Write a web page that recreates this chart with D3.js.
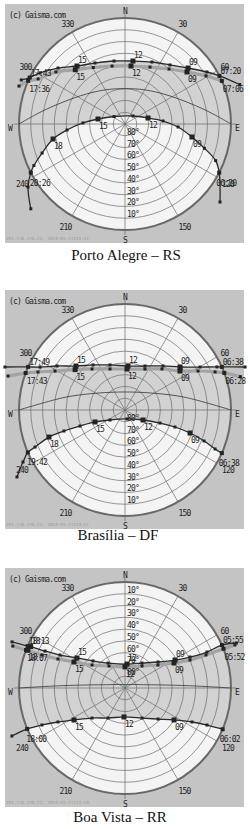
<!DOCTYPE html>
<html lang="pt-br">
<head>
<meta charset="utf-8">
<title>Carta solar - Gaisma</title>
<script src="https://d3js.org/d3.v7.min.js"></script>
<style>
body { margin: 0; background: #fff; }
svg text { font-family: "DejaVu Sans Mono", monospace; }
.lbl { font-size: 8px; letter-spacing: -0.8px; fill: #1e1e1e; }
.ip { font-size: 4.3px; fill: #9a9a9a; }
.cap { font-family: "Liberation Serif", "Times New Roman", serif; font-size: 15px; fill: #111; }
</style>
</head>
<body>
<svg id="chart"></svg>
<script>
var cities = ["Porto Alegre – RS", "Brasília – DF", "Boa Vista – RR"];
var stamps = ["191.176.176.22, 2010-05-21T23:41",
              "191.176.176.22, 2010-05-21T23:51",
              "191.176.176.22, 2010-05-21T23:50"];
var altRings = [10, 20, 30, 40, 50, 60, 70, 80];
var azTicks = [30, 60, 120, 150, 210, 240, 300, 330];

// [azimuth, altitude, hour | rise/set time | null for below horizon]
var poaJune = [[71,-13,null],[63,0,"07:20"],[57.6,7.6,8],[48.4,18.4,9],[37.3,27,10],[23.5,32.6,11],[7.2,36.1,12],
  [-9.9,35.7,13],[-26.2,32.3,14],[-39.6,26.1,15],[-50.1,15.9,16],[-59,5.8,17],[-64,0,"17:43"],[-67,-5.7,null]];
var poaToday = [[66,0,"07:06"],[59.3,10,8],[50,21.3,9],[38.7,30.2,10],[23.7,37.2,11],[5.9,40.5,12],
  [-12.6,39.6,13],[-29.3,35,14],[-42.5,27.5,15],[-53,16.6,16],[-62.6,6.9,17],[-66,0,"17:36"],[-70.3,-5.6,null]];
var poaDec = [[129.4,-14.4,null],[117.3,0,"06:20"],[112,7,7],[107,19.5,8],[101,32.1,9],[93.2,44.9,10],[85.5,57.6,11],
  [75.4,69.8,12],[45,80.4,13],[-55.7,78.7,14],[-79.5,66.7,15],[-88.6,54.3,16],[-95.9,40.5,17],[-101.8,27.6,18],
  [-109.3,15.4,19],[-114.5,5,20],[-117.3,0,"20:26"],[-123,-8.2,null],[-132,-17.6,null]];
var poaEq = [[90,0],[80,21],[58,45],[30,56.5],[0,60],[-30,56.5],[-58,45],[-80,21],[-90,0]];

var brJune = [[70.3,-18.3,null],[66,0,"06:38"],[64.9,3.8,7],[60.2,16.6,8],[52,30.7,9],[40.8,40.6,10],[24.4,49,11],
  [3.9,52.6,12],[-18.4,49.7,13],[-35.4,43.1,14],[-48.1,34.1,15],[-57.1,21.2,16],[-63.2,9.1,17],[-66,0,"17:49"],[-70.3,-18.3,null]];
var brToday = [[73.9,-12,null],[69.5,0,"06:28"],[67.1,7,7],[61.9,19.7,8],[54.7,32.8,9],[42,43.1,10],[26,51.3,11],
  [2.8,55.2,12],[-20.1,52.9,13],[-38.8,45.3,14],[-51,35.5,15],[-60.9,22,16],[-66.4,9.4,17],[-69.6,0,"17:43"],[-73.8,-13.4,null]];
var brDec = [[114,0,"06:38"],[113.4,6.7,7],[111.4,17.9,8],[109.5,31.4,9],[108.8,45.2,10],[110.4,58.3,11],[119,72.5,12],
  [167.5,82.2,13],[-123.7,74.7,14],[-111.8,62.6,15],[-109.6,49.4,16],[-109,35.2,17],[-109.6,21.5,18],[-112.4,7.4,19],
  [-113.6,0,"19:42"],[-117,-7.2,null],[-121.8,-17.9,null]];
var brEq = [[90,0],[78,38],[62,60],[30,72.5],[0,74.7],[-30,72.5],[-62,60],[-78,38],[-90,0]];

var bvJune = [[68,-12,null],[66.1,0,"05:55"],[66.3,14,7],[64.5,28.9,8],[60.8,41.3,9],[51.8,54.3,10],[34.2,64.4,11],
  [4.8,69.6,12],[-34.2,64.4,13],[-49.8,54.4,14],[-58,41.9,15],[-63.1,28.1,16],[-65.2,15.2,17],[-66.3,2.5,18],
  [-66.7,0,"18:13"],[-67.8,-13.6,null]];
var bvToday = [[68.6,-10.2,null],[68.3,0,"05:52"],[67.8,15.7,7],[66.7,29.9,8],[63,43.3,9],[55.1,55.9,10],[37.7,66.4,11],
  [0,72.1,12],[-36,66.9,13],[-55.1,55.9,14],[-63,41.4,15],[-66.6,28,16],[-68.3,14.2,17],[-68.8,1.5,18],
  [-69,0,"18:07"],[-69.5,-11.7,null]];
var bvDec = [[112.9,0,"06:02"],[114.3,13.6,7],[116.9,26.2,8],[123.1,40.3,9],[133.2,51.5,10],[150.5,60.7,11],[182,65.4,12],
  [-150.5,60.7,13],[-132.3,52.1,14],[-122.1,38.9,15],[-116.9,26.2,16],[-114,12.8,17],[-112.7,0,"18:00"],[-113,-14.3,null]];
var bvEq = [[90,0],[88,35],[85,60],[80,74],[60,84],[0,87.2],[-60,84],[-80,74],[-85,60],[-88,35],[-90,0]];

var R = 106;
var rAlt = d3.scaleLinear().domain([90, 0]).range([0, R]);
var rad = d3.scaleLinear().domain([0, 360]).range([0, 2 * Math.PI]);
function pt(az, alt) { return d3.pointRadial(rad(az), rAlt(alt)); }

var curve = d3.lineRadial().angle(d => rad(d[0])).radius(d => rAlt(d[1])).curve(d3.curveCatmullRom);
var straight = d3.lineRadial().angle(d => rad(d[0])).radius(d => rAlt(d[1]));
var two = d3.format("02d");

var panels = [
  {top: 4,   capX: 126, capY: 260, june: poaJune, today: poaToday, dec: poaDec, eq: poaEq, ringSouth: true},
  {top: 290, capX: 118, capY: 540, june: brJune,  today: brToday,  dec: brDec,  eq: brEq,  ringSouth: true},
  {top: 568, capX: 120, capY: 822, june: bvJune,  today: bvToday,  dec: bvDec,  eq: bvEq,  ringSouth: false}
];

var svg = d3.select("#chart").attr("width", 250).attr("height", 829);

panels.forEach(function(p, i) {
  var cy = p.top + 120, cx = 125;

  svg.append("rect").attr("x", 5).attr("y", p.top).attr("width", 239).attr("height", 239).attr("fill", "#c4c4c4");

  var g = svg.append("g").attr("transform", "translate(" + cx + "," + cy + ")");
  g.append("clipPath").attr("id", "disc" + i).append("circle").attr("r", R);
  g.append("circle").attr("r", R).attr("fill", "#f4f4f4");

  // area swept by the sun during the year (between the solstice paths)
  var jd = p.june.filter(d => d[1] >= 0);
  var dd = p.dec.filter(d => d[1] >= 0).reverse();
  var outW = [[jd[jd.length - 1][0], -25], [-90, -25], [dd[0][0], -25]];
  var outE = [[dd[dd.length - 1][0], -25], [90, -25], [jd[0][0], -25]];
  var band = curve(jd) + straight(outW).replace("M", "L") + curve(dd).replace("M", "L") +
             straight(outE).replace("M", "L") + "Z";
  g.append("path").attr("d", band).attr("fill", "#d2d2d2").attr("clip-path", "url(#disc" + i + ")");

  g.selectAll(".ring").data(altRings).join("circle").attr("class", "ring")
    .attr("r", rAlt).attr("fill", "none").attr("stroke", "#6c6c6c").attr("stroke-width", 0.7);

  g.selectAll(".spoke").data(d3.range(0, 360, 30)).join("line").attr("class", "spoke")
    .attr("x2", d => d3.pointRadial(rad(d), d % 90 ? R : R + 5)[0])
    .attr("y2", d => d3.pointRadial(rad(d), d % 90 ? R : R + 5)[1])
    .attr("stroke", "#6c6c6c").attr("stroke-width", 0.7);

  g.append("circle").attr("r", R).attr("fill", "none").attr("stroke", "#686868").attr("stroke-width", 2);

  g.append("path").attr("d", curve(p.eq)).attr("fill", "none").attr("stroke", "#333").attr("stroke-width", 0.8);

  g.append("path").attr("d", curve(p.today)).attr("fill", "none")
    .attr("stroke", "#a3a3a3").attr("stroke-width", 3.2).attr("stroke-linecap", "round");
  [p.june, p.dec].forEach(function(s) {
    g.append("path").attr("d", curve(s)).attr("fill", "none").attr("stroke", "#2a2a2a").attr("stroke-width", 1.3);
  });

  function size(d) {
    if (typeof d[2] === "number") return d[2] % 3 === 0 ? 5 : 3;
    return d[2] ? 4 : 3;
  }

  [[p.today, "down"], [p.june, "up"], [p.dec, "dec"]].forEach(function(pair) {
    var s = pair[0], side = pair[1];
    g.append("g").selectAll("rect").data(s).join("rect")
      .attr("x", d => pt(d[0], d[1])[0] - size(d) / 2)
      .attr("y", d => pt(d[0], d[1])[1] - size(d) / 2)
      .attr("width", size).attr("height", size)
      .attr("fill", "#232323");

    g.append("g").selectAll("text").data(s.filter(d => typeof d[2] === "number" && d[2] % 3 === 0))
      .join("text").attr("class", "lbl")
      .attr("x", d => pt(d[0], d[1])[0] + 1)
      .attr("y", d => pt(d[0], d[1])[1] + (side === "up" ? -3 : 10))
      .text(d => two(d[2]));

    g.append("g").selectAll("text").data(s.filter(d => typeof d[2] === "string"))
      .join("text").attr("class", "lbl")
      .attr("x", function(d) {
        var x = pt(d[0], d[1])[0];
        if (side === "dec") return d[0] > 0 ? x - 3 : x - 1;
        return x + 1;
      })
      .attr("y", d => pt(d[0], d[1])[1] + (side === "up" ? -2 : side === "down" ? 11 : 13))
      .text(d => d[2]);
  });

  g.selectAll(".az").data(azTicks).join("text").attr("class", "lbl az")
    .attr("text-anchor", "middle")
    .attr("x", d => d3.pointRadial(rad(d), R + (Math.cos(rad(d)) < 0 ? 13 : 9))[0])
    .attr("y", d => d3.pointRadial(rad(d), R + (Math.cos(rad(d)) < 0 ? 13 : 9))[1] + 3)
    .text(d => d);

  g.selectAll(".alt").data(altRings).join("text").attr("class", "lbl alt")
    .attr("x", 2)
    .attr("y", d => (p.ringSouth ? rAlt(d) : -rAlt(d)) - 1)
    .text(d => d + "°");

  var compass = [["N", 0, -R - 4], ["S", 0, R + 13], ["E", 112, 7], ["W", -115, 7]];
  g.selectAll(".cmp").data(compass).join("text").attr("class", "lbl cmp")
    .attr("text-anchor", "middle").attr("x", d => d[1]).attr("y", d => d[2]).text(d => d[0]);

  svg.append("text").attr("class", "lbl").attr("x", 9).attr("y", p.top + 14).text("(c) Gaisma.com");
  svg.append("text").attr("class", "ip").attr("x", 6).attr("y", p.top + 236).text(stamps[i]);
  svg.append("text").attr("class", "cap").attr("text-anchor", "middle")
    .attr("x", p.capX).attr("y", p.capY).text(cities[i]);
});
</script>
</body>
</html>
